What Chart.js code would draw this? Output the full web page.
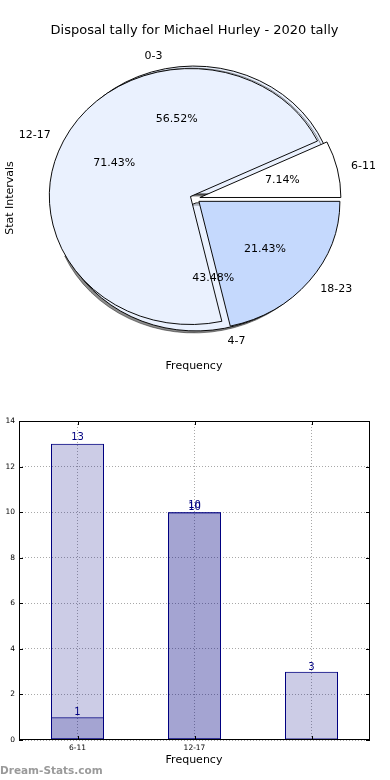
<!DOCTYPE html>
<html lang="en">
<head>
<meta charset="UTF-8">
<meta name="viewport" content="width=device-width, initial-scale=1.0">
<title>Disposal tally for Michael Hurley - 2020 tally</title>
<script src="https://cdn.jsdelivr.net/npm/chart.js"></script>
<style>
    body { margin: 0; background: #fff; }
    #wrap { position: relative; width: 390px; height: 780px; overflow: hidden; }
    #wrap canvas { position: absolute; left: 0; }
    #pieBack, #pieFront { top: 0; }
    #bars { top: 390px; }
</style>
</head>
<body>
<div id="wrap">
    <canvas id="pieBack" width="390" height="397"></canvas>
    <canvas id="pieFront" width="390" height="397"></canvas>
    <canvas id="bars" width="390" height="390"></canvas>
</div>

<script>
const title = 'Disposal tally for Michael Hurley - 2020 tally';

// pie drawn underneath
const backLabels = ['0-3', '4-7'];
const backValues = [13, 10];
// pie drawn on top of it
const frontLabels = ['6-11', '12-17', '18-23'];
const frontValues = [1, 10, 3];

// bar chart (two overlapping semi-transparent series)
const barTicks = ['6-11', '12-17', ''];
const barSeriesA = [13, 10];
const barSeriesB = [1, 10, 3];
const yTicks = [0, 2, 4, 6, 8, 10, 12, 14];

const FONT = '"DejaVu Sans", sans-serif';
Chart.defaults.font.family = FONT;

const RADIUS = 141;
const SQUASH = 128 / 141;   // the original pie is an ellipse
const EXPLODE = 5;

// matplotlib goes anticlockwise from 3 o'clock, chart.js clockwise,
// so slices go in reversed and the start is turned by 90
const rev = a => a.slice().reverse();

const ellipse = {
    id: 'ellipse',
    afterDatasetUpdate(chart) {
        chart.getDatasetMeta(0).data.forEach(arc => {
            const mid = (arc.startAngle + arc.endAngle) / 2;
            arc.x += Math.cos(mid) * EXPLODE;
            arc.y += Math.sin(mid) * EXPLODE;
        });
    },
    beforeDatasetsDraw(chart, args, opts) {
        const ctx = chart.ctx, a = chart.chartArea;
        const cx = (a.left + a.right) / 2, cy = (a.top + a.bottom) / 2;
        ctx.save();
        ctx.translate(cx, cy);
        ctx.scale(1, SQUASH);
        ctx.translate(-cx, -cy);
        if (opts.shadow) {
            ctx.shadowColor = 'rgba(0,0,0,0.45)';
            ctx.shadowOffsetX = -2;
            ctx.shadowOffsetY = 2;
            ctx.shadowBlur = 0.5;
        }
    },
    afterDatasetsDraw(chart) {
        chart.ctx.restore();
    }
};

function pieConfig(labels, values, colors, shadow, extra) {
    return {
        type: 'pie',
        data: {
            labels: rev(labels),
            datasets: [{
                data: rev(values),
                backgroundColor: rev(colors),
                borderColor: '#000',
                borderWidth: 1,
                hoverOffset: 0,
                radius: RADIUS,
                rotation: 90
            }]
        },
        options: {
            responsive: false,
            animation: false,
            events: [],
            plugins: { legend: { display: false }, tooltip: { enabled: false }, ellipse: { shadow: shadow } }
        },
        plugins: [ellipse].concat(extra || [])
    };
}

const backChart = new Chart(document.getElementById('pieBack'),
    pieConfig(backLabels, backValues, ['#eaf1fe', '#eaf1fe'], true));

const pieText = {
    id: 'pieText',
    afterDraw(chart) {
        const ctx = chart.ctx, a = chart.chartArea;
        const cy = (a.top + a.bottom) / 2;
        ctx.save();
        ctx.fillStyle = '#000';

        ctx.font = '13px ' + FONT;
        ctx.textAlign = 'center';
        ctx.textBaseline = 'middle';
        ctx.fillText(title, 194.5, 30.5);

        ctx.font = '11px ' + FONT;
        [backChart, chart].forEach(ch => {
            const arcs = ch.getDatasetMeta(0).data;
            const vals = ch.data.datasets[0].data;
            const names = ch.data.labels;
            const total = vals.reduce((s, v) => s + v, 0);
            arcs.forEach((arc, i) => {
                const mid = (arc.startAngle + arc.endAngle) / 2;
                const at = k => ({
                    x: arc.x + Math.cos(mid) * k * arc.outerRadius,
                    y: cy + (arc.y + Math.sin(mid) * k * arc.outerRadius - cy) * SQUASH
                });
                const p = at(0.6);
                ctx.textAlign = 'center';
                ctx.fillText((vals[i] / total * 100).toFixed(2) + '%', p.x, p.y);
                const q = at(1.1);
                ctx.textAlign = Math.cos(mid) > 0 ? 'left' : 'right';
                ctx.fillText(names[i], q.x, q.y);
            });
        });

        ctx.textAlign = 'center';
        ctx.fillText('Frequency', 194, 366);
        ctx.translate(10, 198);
        ctx.rotate(-Math.PI / 2);
        ctx.fillText('Stat Intervals', 0, 0);
        ctx.restore();
    }
};

new Chart(document.getElementById('pieFront'),
    pieConfig(frontLabels, frontValues, ['#ffffff', '#eaf1fe', '#c5d9fd'], false, [pieText]));

// ---- bar chart ----
const barFrame = {
    id: 'barFrame',
    afterDraw(chart) {
        const ctx = chart.ctx, a = chart.chartArea;
        const x = chart.scales.x, y = chart.scales.y;
        ctx.save();
        ctx.strokeStyle = '#000';
        ctx.lineWidth = 1;
        ctx.strokeRect(a.left + 0.5, a.top + 0.5, a.right - a.left - 1, a.bottom - a.top - 1);
        // inward ticks like the classic matplotlib style
        ctx.beginPath();
        y.ticks.forEach((t, i) => {
            const py = Math.round(y.getPixelForTick(i)) + 0.5;
            ctx.moveTo(a.left, py); ctx.lineTo(a.left + 4, py);
            ctx.moveTo(a.right, py); ctx.lineTo(a.right - 4, py);
        });
        x.ticks.forEach((t, i) => {
            const px = Math.round(x.getPixelForValue(i)) + 0.5;
            ctx.moveTo(px, a.bottom); ctx.lineTo(px, a.bottom - 4);
            ctx.moveTo(px, a.top); ctx.lineTo(px, a.top + 4);
        });
        ctx.stroke();

        // value on top of each bar
        ctx.fillStyle = 'navy';
        ctx.font = '10px ' + FONT;
        ctx.textAlign = 'center';
        ctx.textBaseline = 'alphabetic';
        chart.data.datasets.forEach((ds, d) => {
            chart.getDatasetMeta(d).data.forEach((bar, i) => {
                ctx.fillText(String(ds.data[i]), bar.x, bar.y - (d === 0 ? 4 : 2));
            });
        });

        ctx.fillStyle = '#000';
        ctx.font = '11px ' + FONT;
        ctx.textBaseline = 'middle';
        ctx.fillText('Frequency', 194, 370);

        ctx.fillStyle = '#9a9a9a';
        ctx.font = 'bold 10.5px ' + FONT;
        ctx.textAlign = 'left';
        ctx.fillText('Dream-Stats.com', 0, 381);
        ctx.restore();
    }
};

const barStyle = {
    backgroundColor: 'rgba(0,0,128,0.2)',
    borderColor: '#000080',
    borderWidth: 1,
    borderSkipped: false,
    grouped: false,
    barPercentage: 53 / 117,
    categoryPercentage: 1
};

new Chart(document.getElementById('bars'), {
    type: 'bar',
    data: {
        labels: barTicks,
        datasets: [
            Object.assign({ label: 'A', data: barSeriesA }, barStyle),
            Object.assign({ label: 'B', data: barSeriesB }, barStyle)
        ]
    },
    options: {
        responsive: false,
        animation: false,
        events: [],
        layout: { padding: { top: 31, right: 20, left: 0, bottom: 0 } },
        plugins: { legend: { display: false }, tooltip: { enabled: false } },
        scales: {
            x: {
                grid: { offset: false, color: '#a8a8a8', drawTicks: false },
                border: { display: false, dash: [1, 2] },
                ticks: { color: '#000', font: { size: 7.5 }, padding: 4, maxRotation: 0, autoSkip: false },
                afterFit(s) { s.height = 40; }
            },
            y: {
                min: yTicks[0],
                max: yTicks[yTicks.length - 1],
                grid: { color: '#a8a8a8', drawTicks: false },
                border: { display: false, dash: [1, 2] },
                ticks: { stepSize: yTicks[1] - yTicks[0], color: '#000', font: { size: 7.5 }, padding: 4 },
                afterFit(s) { s.width = 19; }
            }
        }
    },
    plugins: [barFrame]
});
</script>
</body>
</html>
